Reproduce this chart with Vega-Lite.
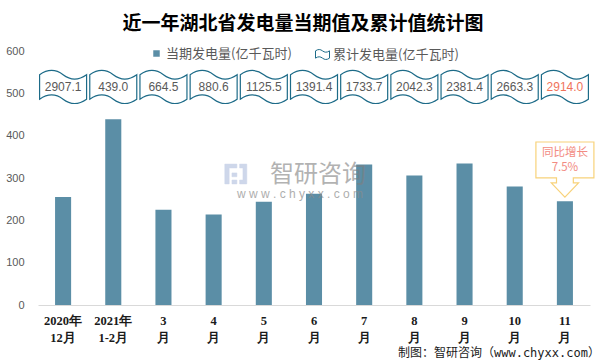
{
  "$schema": "https://vega.github.io/schema/vega-lite/v6.json",
  "width": 552,
  "height": 254,
  "autosize": {"type": "none"},
  "padding": {"left": 38, "top": 51, "right": 15, "bottom": 58},
  "background": "white",
  "title": {
    "text": "近一年湖北省发电量当期值及累计值统计图",
    "font": "Noto Sans CJK SC",
    "fontSize": 19,
    "fontWeight": "bold",
    "color": "#000000",
    "anchor": "middle",
    "frame": "group",
    "dx": -11,
    "offset": 11
  },
  "datasets": {
    "monthly": [
      {"month": "2020年|12月", "value": 255, "cum": 2907.1},
      {"month": "2021年|1-2月", "value": 439, "cum": 439.0},
      {"month": "3|月", "value": 225, "cum": 664.5},
      {"month": "4|月", "value": 214, "cum": 880.6},
      {"month": "5|月", "value": 244, "cum": 1125.5},
      {"month": "6|月", "value": 263, "cum": 1391.4},
      {"month": "7|月", "value": 332, "cum": 1733.7},
      {"month": "8|月", "value": 306, "cum": 2042.3},
      {"month": "9|月", "value": 334, "cum": 2381.4},
      {"month": "10|月", "value": 280, "cum": 2663.3},
      {"month": "11|月", "value": 245, "cum": 2914.0}
    ]
  },
  "data": {"name": "monthly"},
  "encoding": {
    "x": {
      "field": "month",
      "type": "nominal",
      "sort": null,
      "scale": {
        "domain": ["2020年|12月", "2021年|1-2月", "3|月", "4|月", "5|月", "6|月", "7|月", "8|月", "9|月", "10|月", "11|月"],
        "paddingInner": 0.68,
        "paddingOuter": 0.34
      },
      "axis": {
        "title": null,
        "labelExpr": "split(datum.value, '|')",
        "labelAngle": 0,
        "ticks": false,
        "tickSize": 0,
        "domainColor": "#d9d9d9",
        "domainWidth": 1,
        "labelFont": "Liberation Serif",
        "labelFontWeight": "bold",
        "labelFontSize": 12.5,
        "labelColor": "#1a1a1a",
        "labelLineHeight": 17,
        "labelPadding": 9
      }
    }
  },
  "layer": [
    {
      "mark": {"type": "bar"},
      "encoding": {
        "y": {
          "field": "value",
          "type": "quantitative",
          "scale": {"domain": [0, 600], "nice": false},
          "axis": {
            "title": null,
            "values": [0, 100, 200, 300, 400, 500, 600],
            "domain": false,
            "ticks": false,
            "grid": false,
            "labelColor": "#595959",
            "labelFont": "Liberation Sans",
            "labelFontSize": 11,
            "labelPadding": 14
          }
        },
        "fill": {
          "datum": "当期发电量(亿千瓦时)",
          "type": "nominal",
          "scale": {"range": ["#5b8ea6"]},
          "legend": {
            "orient": "none",
            "legendX": 112,
            "legendY": -4,
            "title": null,
            "padding": 0,
            "symbolType": "square",
            "symbolSize": 42,
            "symbolStrokeWidth": 0,
            "labelFont": "Noto Sans CJK SC",
            "labelFontSize": 13,
            "labelColor": "#595959",
            "labelOffset": 3
          }
        }
      }
    },
    {
      "mark": {"type": "point", "shape": "M -1 -0.52 C -0.6 -0.8 -0.3 -0.75 0 -0.52 C 0.3 -0.29 0.6 -0.24 1 -0.52 L 1 0.52 C 0.6 0.8 0.3 0.75 0 0.52 C -0.3 0.29 -0.6 0.24 -1 0.52 Z", "filled": false, "fill": "white", "strokeWidth": 1.2, "size": 2209, "opacity": 1},
      "encoding": {
        "y": {"datum": 515, "type": "quantitative"},
        "stroke": {
          "datum": "累计发电量(亿千瓦时)",
          "type": "nominal",
          "scale": {"range": ["#1d6b88"]},
          "legend": {
            "orient": "none",
            "legendX": 277,
            "legendY": -4,
            "title": null,
            "padding": 0,
            "symbolSize": 196,
            "symbolType": "M -1 -0.52 C -0.6 -0.8 -0.3 -0.75 0 -0.52 C 0.3 -0.29 0.6 -0.24 1 -0.52 L 1 0.52 C 0.6 0.8 0.3 0.75 0 0.52 C -0.3 0.29 -0.6 0.24 -1 0.52 Z",
            "symbolFillColor": "white",
            "symbolStrokeWidth": 1,
            "symbolOpacity": 1,
            "labelFont": "Noto Sans CJK SC",
            "labelFontSize": 13,
            "labelColor": "#595959",
            "labelOffset": 3
          }
        }
      }
    },
    {
      "mark": {"type": "text", "font": "Liberation Sans", "fontSize": 12, "baseline": "middle", "align": "center"},
      "encoding": {
        "y": {"datum": 515, "type": "quantitative"},
        "text": {"field": "cum", "type": "quantitative", "format": ".1f"},
        "color": {
          "condition": {"test": "datum.month === '11|月'", "value": "#f0735a"},
          "value": "#595959"
        }
      }
    },
    {
      "data": {"values": [{"month": "5|月", "mark": "logo"}]},
      "mark": {"type": "point", "shape": "M -1 -0.9 L 0.1 -0.9 L 0.1 -0.55 L -0.6 -0.55 L -0.6 0.9 L -1 0.9 Z M -0.35 -0.1 L 0.1 -0.1 L 0.1 0.25 L -0.35 0.25 Z M -0.35 0.55 L 0.1 0.55 L 0.1 0.9 L -0.35 0.9 Z M 0.35 -0.9 L 1 -0.9 L 1 0.9 L 0.35 0.9 L 0.35 0.55 L 0.65 0.55 L 0.65 -0.55 L 0.35 -0.55 Z", "filled": true, "fill": "#c9d3e8", "stroke": "#c9d3e8", "strokeWidth": 0.5, "size": 484, "opacity": 0.9},
      "encoding": {
        "y": {"datum": 309.5, "type": "quantitative"},
        "xOffset": {"value": -20}
      }
    },
    {
      "data": {"values": [{"month": "6|月", "text": "智研咨询"}]},
      "mark": {"type": "text", "font": "Noto Sans CJK SC", "fontSize": 24, "color": "#7f7f7f", "opacity": 0.6, "baseline": "middle", "align": "center", "dx": 4},
      "encoding": {"y": {"datum": 308, "type": "quantitative"}, "text": {"field": "text"}}
    },
    {
      "data": {"values": [{"month": "6|月", "text": "w w w . c h y x x . c o m"}]},
      "mark": {"type": "text", "font": "Liberation Sans", "fontSize": 12, "color": "#8c8c8c", "opacity": 0.7, "baseline": "middle", "align": "center", "dx": -14},
      "encoding": {"y": {"datum": 262, "type": "quantitative"}, "text": {"field": "text"}}
    },
    {
      "data": {"values": [{"month": "11|月", "note": "同比增长\n7.5%"}]},
      "mark": {"type": "point", "shape": "M -1 -0.95 L 1 -0.95 L 1 0.29 L 0.29 0.29 L 0.29 0.46 L 0.47 0.46 L 0 0.95 L -0.47 0.46 L -0.29 0.46 L -0.29 0.29 L -1 0.29 Z", "filled": false, "fill": "white", "stroke": "#f8d27a", "strokeWidth": 1.2, "size": 3364, "opacity": 1},
      "encoding": {"y": {"datum": 320, "type": "quantitative"}}
    },
    {
      "data": {"values": [{"month": "11|月", "note": "同比增长\n7.5%"}]},
      "mark": {"type": "text", "font": "Noto Sans CJK SC", "fontSize": 11.5, "color": "#f28b82", "lineBreak": "\n", "lineHeight": 15, "baseline": "middle", "align": "center"},
      "encoding": {"y": {"datum": 360, "type": "quantitative"}, "text": {"field": "note"}}
    },
    {
      "data": {"values": [{"month": "11|月", "text": "制图：智研咨询（www.chyxx.com）"}]},
      "mark": {"type": "text", "font": "DejaVu Sans Mono, Noto Sans CJK SC", "fontSize": 12, "color": "#1a1a1a", "baseline": "middle", "align": "right", "dx": 35},
      "encoding": {"y": {"datum": -113.4, "type": "quantitative"}, "text": {"field": "text"}}
    }
  ],
  "config": {"view": {"stroke": null}}
}
